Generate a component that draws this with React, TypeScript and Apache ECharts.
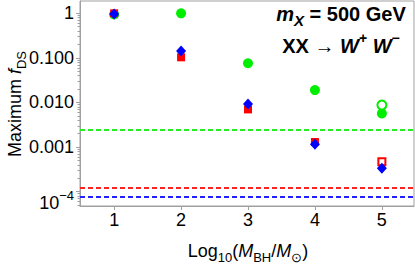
import React, { useEffect, useRef } from "react";
import * as echarts from "echarts";

// Data
const massLog = [1, 2, 3, 4, 5];
const greenFilled = [0.94, 1.0, 0.076, 0.019, 0.0057];
const redFilled = [1.0, 0.103, 0.007, 0.0013];
const blueFilled = [0.96, 0.143, 0.0092, 0.00116, 0.000335];
const greenOpenX = [5];
const greenOpenY = [0.0088];
const redOpenX = [5];
const redOpenY = [0.00047];
const greenLimit = 0.00242;
const redLimit = 0.000121;
const blueLimit = 7.6e-5;

const xTicks = [1, 2, 3, 4, 5];
const yTickValues = [-4, -3, -2, -1, 0];
const yTickLabels = ["{b|10}{p|−4}", "0.001", "0.010", "0.100", "1"];

const X_MIN = 0.49;
const X_MAX = 5.48;
const Y_MIN = -4.321;
const Y_MAX = 0.276;

const FONT = "'Liberation Sans', Arial, sans-serif";

const minorTicks: number[] = [];
for (let n = -5; n <= 0; n++) {
  for (let k = 2; k <= 9; k++) {
    const v = Math.log10(k * Math.pow(10, n));
    if (v > Y_MIN && v < Y_MAX) minorTicks.push(v);
  }
}

const lg = (v: number) => Math.log10(v);

export default function App() {
  const ref = useRef<HTMLDivElement>(null);
  useEffect(() => {
    if (!ref.current) return;
    const chart = echarts.init(ref.current, null, { renderer: "svg" });
    const axisGray = "#a0a0a0";
    const limitLine = (v: number, color: string) => ({
      type: "line",
      data: [
        [X_MIN, lg(v)],
        [X_MAX, lg(v)],
      ],
      symbol: "none",
      silent: true,
      lineStyle: { color, width: 2, type: [5, 3] },
      z: 1,
    });
    chart.setOption({
      animation: false,
      grid: {
        left: 80,
        right: 1,
        top: 1,
        bottom: 59,
        show: true,
        borderColor: axisGray,
        borderWidth: 1,
      },
      xAxis: {
        type: "value",
        min: X_MIN,
        max: X_MAX,
        axisLine: { onZero: false, lineStyle: { color: axisGray } },
        axisTick: {
          customValues: xTicks,
          length: 4,
          lineStyle: { color: axisGray },
        },
        axisLabel: {
          customValues: xTicks,
          formatter: (v: number) => String(Math.round(v)),
          color: "#000",
          fontSize: 18,
          fontFamily: FONT,
          margin: 5,
        },
        splitLine: { show: false },
      },
      yAxis: [
        {
          type: "value",
          min: Y_MIN,
          max: Y_MAX,
          axisLine: { show: true, onZero: false, lineStyle: { color: axisGray } },
          axisTick: {
            customValues: yTickValues,
            length: 4,
            lineStyle: { color: axisGray },
          },
          axisLabel: {
            customValues: yTickValues,
            formatter: (v: number) => {
              const i = yTickValues.indexOf(Math.round(v));
              return i >= 0 ? yTickLabels[i] : "";
            },
            color: "#000",
            fontSize: 18,
            fontFamily: FONT,
            margin: 6,
            rich: {
              b: {
                fontSize: 18,
                lineHeight: 18,
                fontFamily: FONT,
                color: "#000",
                padding: [11.6, 0, 0, 0],
                verticalAlign: "top",
              },
              p: {
                fontSize: 13,
                lineHeight: 13,
                fontFamily: FONT,
                color: "#000",
                padding: [6.6, 0, 0, 0],
                verticalAlign: "top",
              },
            },
          },
          splitLine: { show: false },
        },
        {
          type: "value",
          min: Y_MIN,
          max: Y_MAX,
          position: "left",
          axisLine: { show: false, onZero: false },
          axisTick: {
            customValues: minorTicks,
            length: 2.5,
            lineStyle: { color: axisGray },
          },
          axisLabel: { show: false },
          splitLine: { show: false },
        },
      ],
      series: [
        limitLine(greenLimit, "#22ee22"),
        limitLine(redLimit, "#ff2222"),
        limitLine(blueLimit, "#2222ff"),
        {
          type: "scatter",
          data: massLog.map((x, i) => [x, lg(greenFilled[i])]),
          symbol: "circle",
          symbolSize: 10,
          itemStyle: { color: "#00ee00", opacity: 1 },
          silent: true,
          z: 2,
        },
        {
          type: "scatter",
          data: greenOpenX.map((x, i) => [x, lg(greenOpenY[i])]),
          symbol: "emptyCircle",
          symbolSize: 9,
          itemStyle: { color: "#00ee00", borderWidth: 1.2, opacity: 1 },
          silent: true,
          z: 2,
        },
        {
          type: "scatter",
          data: redFilled.map((v, i) => [massLog[i], lg(v)]),
          symbol: "rect",
          symbolSize: 8,
          itemStyle: { color: "#ff0000", opacity: 1 },
          silent: true,
          z: 3,
        },
        {
          type: "scatter",
          data: redOpenX.map((x, i) => [x, lg(redOpenY[i])]),
          symbol: "emptyRect",
          symbolSize: 7,
          itemStyle: { color: "#ff0000", borderWidth: 1.8, opacity: 1 },
          silent: true,
          z: 3,
        },
        {
          type: "scatter",
          data: massLog.map((x, i) => [x, lg(blueFilled[i])]),
          symbol: "diamond",
          symbolSize: [10, 11],
          itemStyle: { color: "#0000ff", opacity: 1 },
          silent: true,
          z: 4,
        },
      ],
      graphic: [
        {
          type: "text",
          x: 341,
          y: 14,
          z: 10,
          style: {
            text: "{mi|m}{si|X}{b| = 500 GeV}",
            textAlign: "center",
            textVerticalAlign: "middle",
            rich: {
              mi: { fontSize: 20, lineHeight: 20, fontStyle: "italic", fontWeight: "bold", fontFamily: FONT, fill: "#000", verticalAlign: "top" },
              si: { fontSize: 15, lineHeight: 15, fontStyle: "italic", fontWeight: "bold", fontFamily: FONT, fill: "#000", verticalAlign: "top", padding: [9, 0, 0, 0] },
              b: { fontSize: 20, lineHeight: 20, fontWeight: "bold", fontFamily: FONT, fill: "#000", verticalAlign: "top" },
            },
          },
        },
        {
          type: "text",
          x: 341,
          y: 41,
          z: 10,
          style: {
            text: "{b|XX → }{bi|W}{sup|+}{b| }{bi|W}{sup|−}",
            textAlign: "center",
            textVerticalAlign: "middle",
            rich: {
              b: { fontSize: 20, lineHeight: 20, fontWeight: "bold", fontFamily: FONT, fill: "#000", verticalAlign: "top", padding: [5, 0, 0, 0] },
              bi: { fontSize: 20, lineHeight: 20, fontWeight: "bold", fontStyle: "italic", fontFamily: FONT, fill: "#000", verticalAlign: "top", padding: [5, 0, 0, 0] },
              sup: { fontSize: 14, lineHeight: 14, fontWeight: "bold", fontFamily: FONT, fill: "#000", verticalAlign: "top" },
            },
          },
        },
        {
          type: "text",
          x: 248,
          y: 251,
          z: 10,
          style: {
            text: "{n|Log}{s|10}{n|(}{i|M}{s|BH}{n|/}{i|M}{s|⊙}{n|)}",
            textAlign: "center",
            textVerticalAlign: "middle",
            rich: {
              n: { fontSize: 18, lineHeight: 18, fontFamily: FONT, fill: "#000", verticalAlign: "top" },
              i: { fontSize: 18, lineHeight: 18, fontStyle: "italic", fontFamily: FONT, fill: "#000", verticalAlign: "top" },
              s: { fontSize: 13, lineHeight: 13, fontFamily: FONT, fill: "#000", verticalAlign: "top", padding: [9, 0, 0, 0] },
            },
          },
        },
        {
          type: "text",
          x: 15,
          y: 104,
          rotation: Math.PI / 2,
          z: 10,
          style: {
            text: "{n|Maximum }{i|f}{s|DS}",
            textAlign: "center",
            textVerticalAlign: "middle",
            rich: {
              n: { fontSize: 18, lineHeight: 18, fontFamily: FONT, fill: "#000", verticalAlign: "top" },
              i: { fontSize: 18, lineHeight: 18, fontStyle: "italic", fontFamily: FONT, fill: "#000", verticalAlign: "top" },
              s: { fontSize: 13, lineHeight: 13, fontFamily: FONT, fill: "#000", verticalAlign: "top", padding: [9, 0, 0, 0] },
            },
          },
        },
      ],
    });
    return () => chart.dispose();
  }, []);
  return <div ref={ref} style={{ width: 415, height: 265, position: "absolute", left: 0, top: 0 }} />;
}
